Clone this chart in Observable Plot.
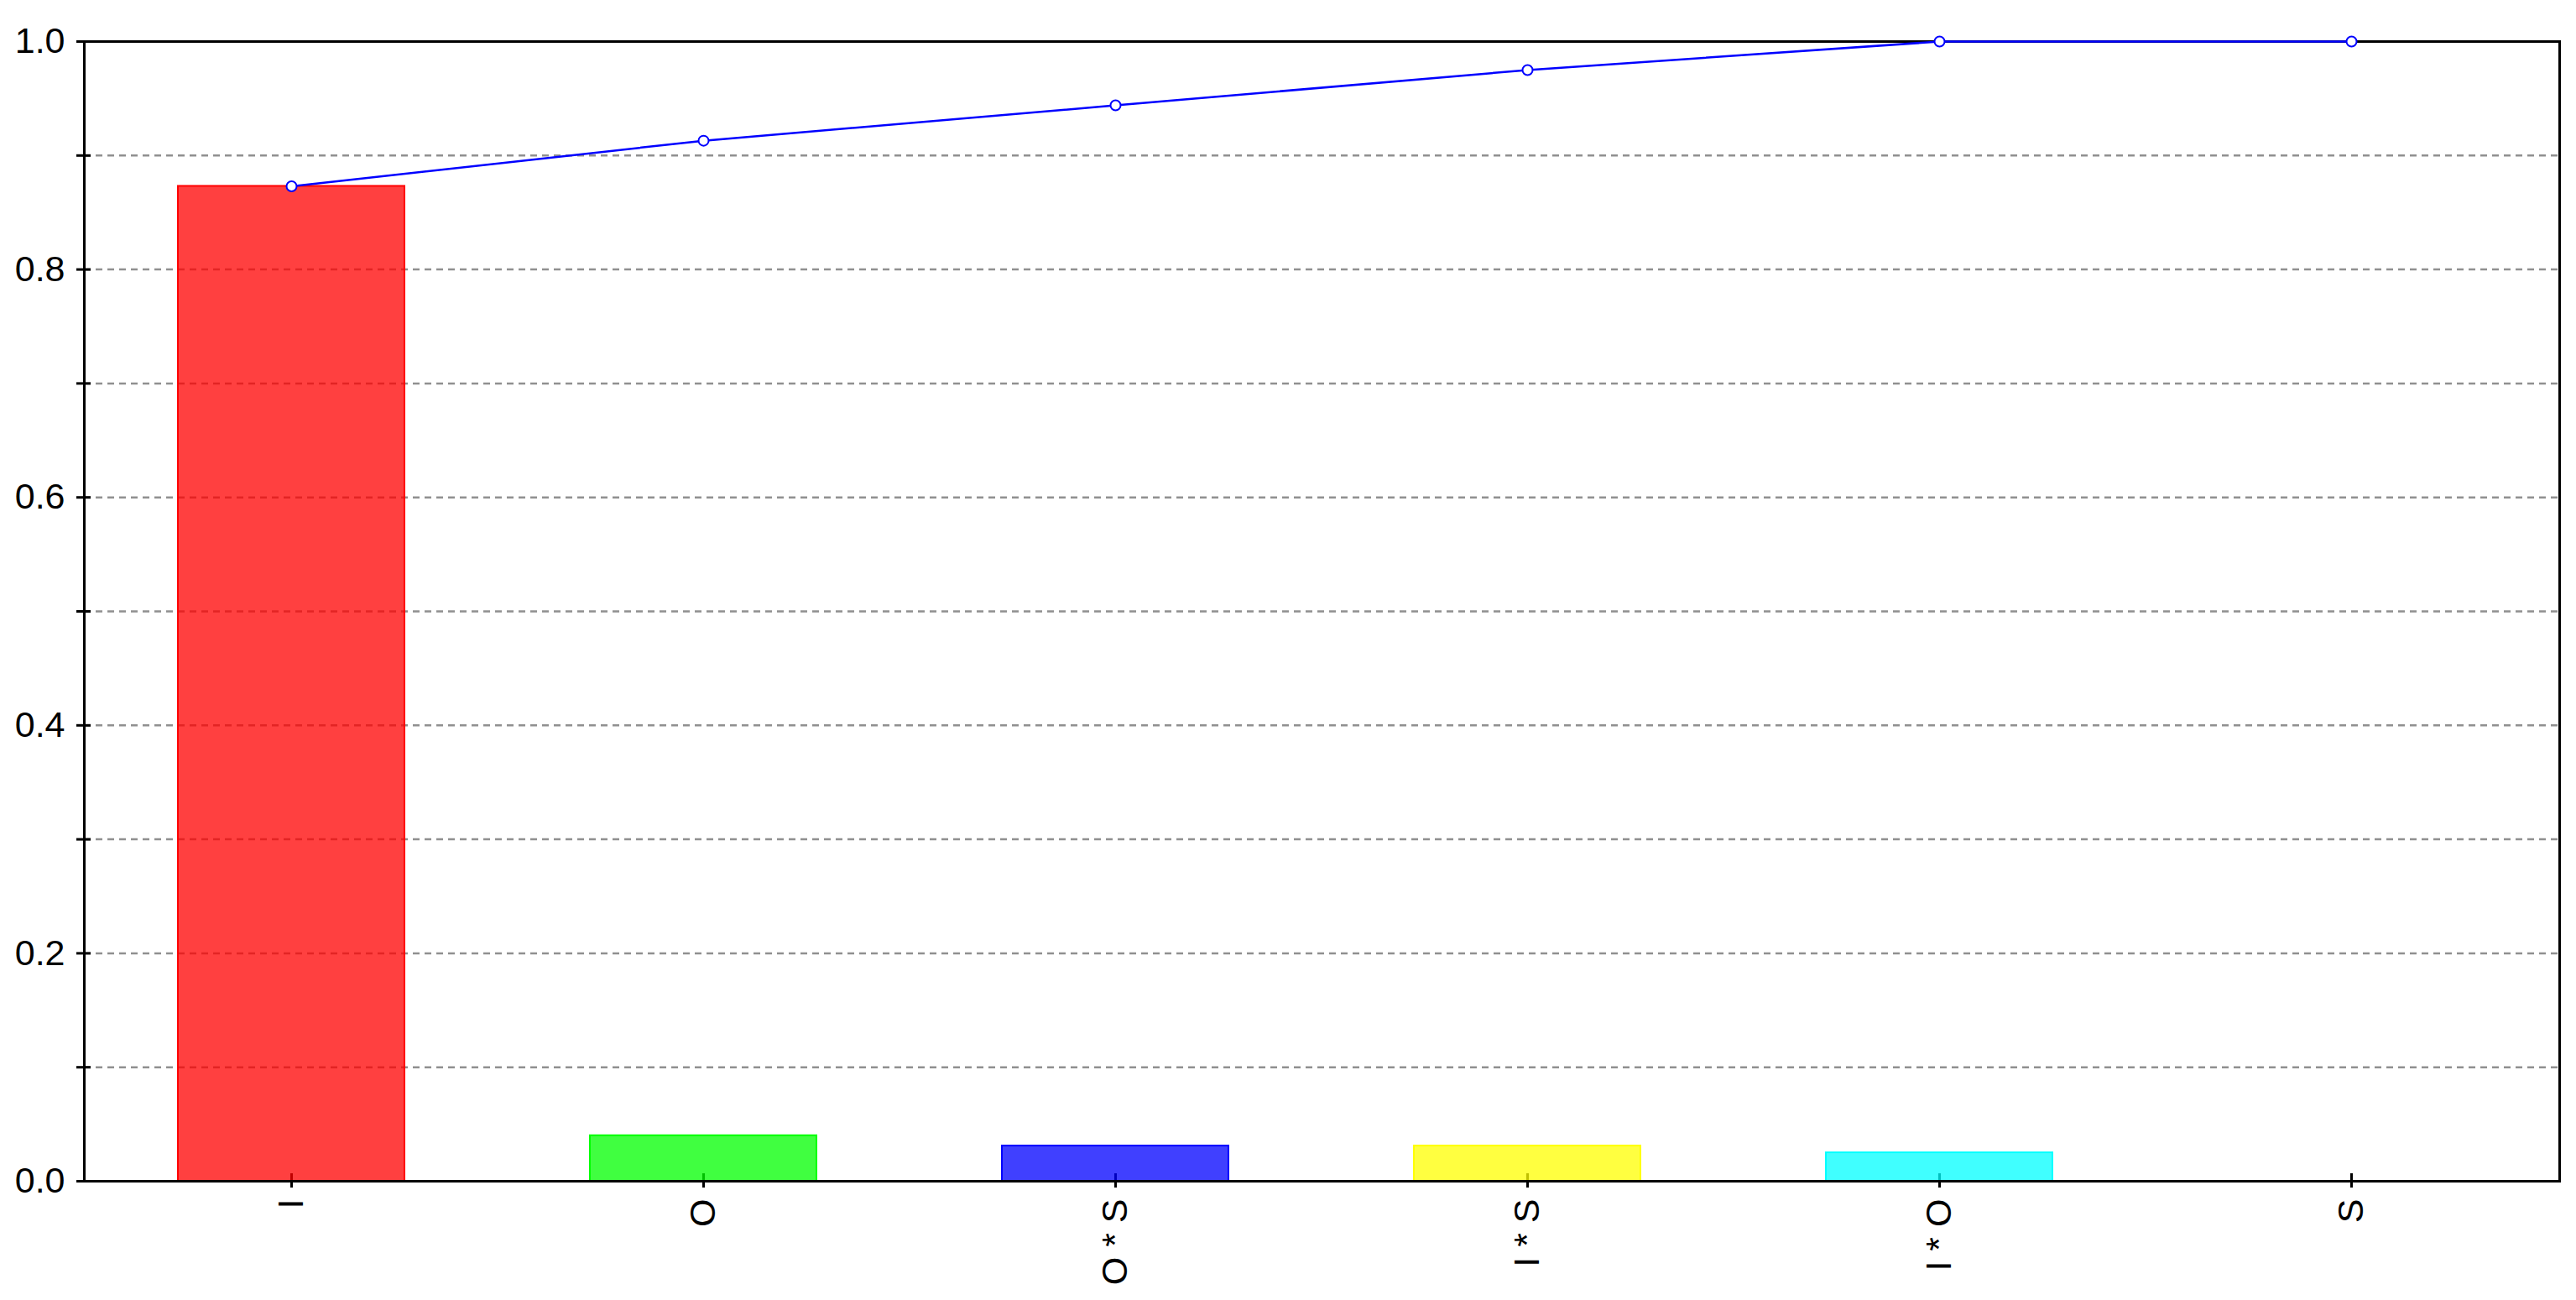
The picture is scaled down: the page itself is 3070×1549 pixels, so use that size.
<!DOCTYPE html>
<html>
<head>
<meta charset="utf-8">
<script src="https://cdn.jsdelivr.net/npm/d3@7"></script>
<script src="https://cdn.jsdelivr.net/npm/@observablehq/plot@0.6"></script>
<style>
  html, body { margin: 0; padding: 0; background: #ffffff; }
  svg { display: block; }
</style>
</head>
<body>
<div id="chart"></div>
<script>
// ---- data ----
const categories = ["I", "O", "O * S", "I * S", "I * O", "S"];
const values     = [0.873, 0.040, 0.031, 0.031, 0.025, 0.000];
const cumulative = [0.873, 0.913, 0.944, 0.975, 1.000, 1.000];
const barColors  = ["#ff0000", "#00ff00", "#0000ff", "#ffff00", "#00ffff", "#ff00ff"];
const yTicks     = [0, 0.1, 0.2, 0.3, 0.4, 0.5, 0.6, 0.7, 0.8, 0.9, 1.0];
const yLabels    = [0, 0.2, 0.4, 0.6, 0.8, 1.0];
const gridLines  = [0.1, 0.2, 0.3, 0.4, 0.5, 0.6, 0.7, 0.8, 0.9];

const data = categories.map((c, i) => ({cat: c, value: values[i], cum: cumulative[i], color: barColors[i]}));

const chart = Plot.plot({
  width: 3070,
  height: 1549,
  marginLeft: 100,
  marginRight: 20,
  marginTop: 49,
  marginBottom: 142,
  style: {fontFamily: "'Liberation Sans', Arial, sans-serif", fontSize: "43px", color: "#000", background: "#ffffff"},
  x: {domain: categories, paddingInner: 0.45, paddingOuter: 0.225, axis: null, label: null},
  y: {domain: [0, 1], axis: null, label: null},
  color: {type: "identity"},
  marks: [
    Plot.ruleY(gridLines, {stroke: "#909090", strokeWidth: 2.5, strokeDasharray: "8,6"}),
    Plot.axisY(yTicks, {tickSize: 17, dx: 8, strokeWidth: 3, tickFormat: () => "", label: null}),
    Plot.axisY(yLabels, {tickSize: 0, tickPadding: 23, tickFormat: d3.format(".1f"), fill: "#000", label: null}),
    Plot.axisX({tickSize: 17, dy: -9, strokeWidth: 3, tickFormat: () => "", label: null}),
    Plot.axisX({tickSize: 0, tickPadding: 21, tickRotate: -90, fill: "#000", label: null}),
    Plot.barY(data, {x: "cat", y: "value", fill: "color", fillOpacity: 0.75, stroke: "color", strokeWidth: 2}),
    Plot.frame({stroke: "#000", strokeWidth: 3}),
    Plot.line(data, {x: "cat", y: "cum", stroke: "#0000ff", strokeWidth: 2.5}),
    Plot.dot(data, {x: "cat", y: "cum", r: 6, stroke: "#0000ff", fill: "#ffffff", strokeWidth: 2})
  ]
});
document.getElementById("chart").appendChild(chart);
</script>
</body>
</html>
